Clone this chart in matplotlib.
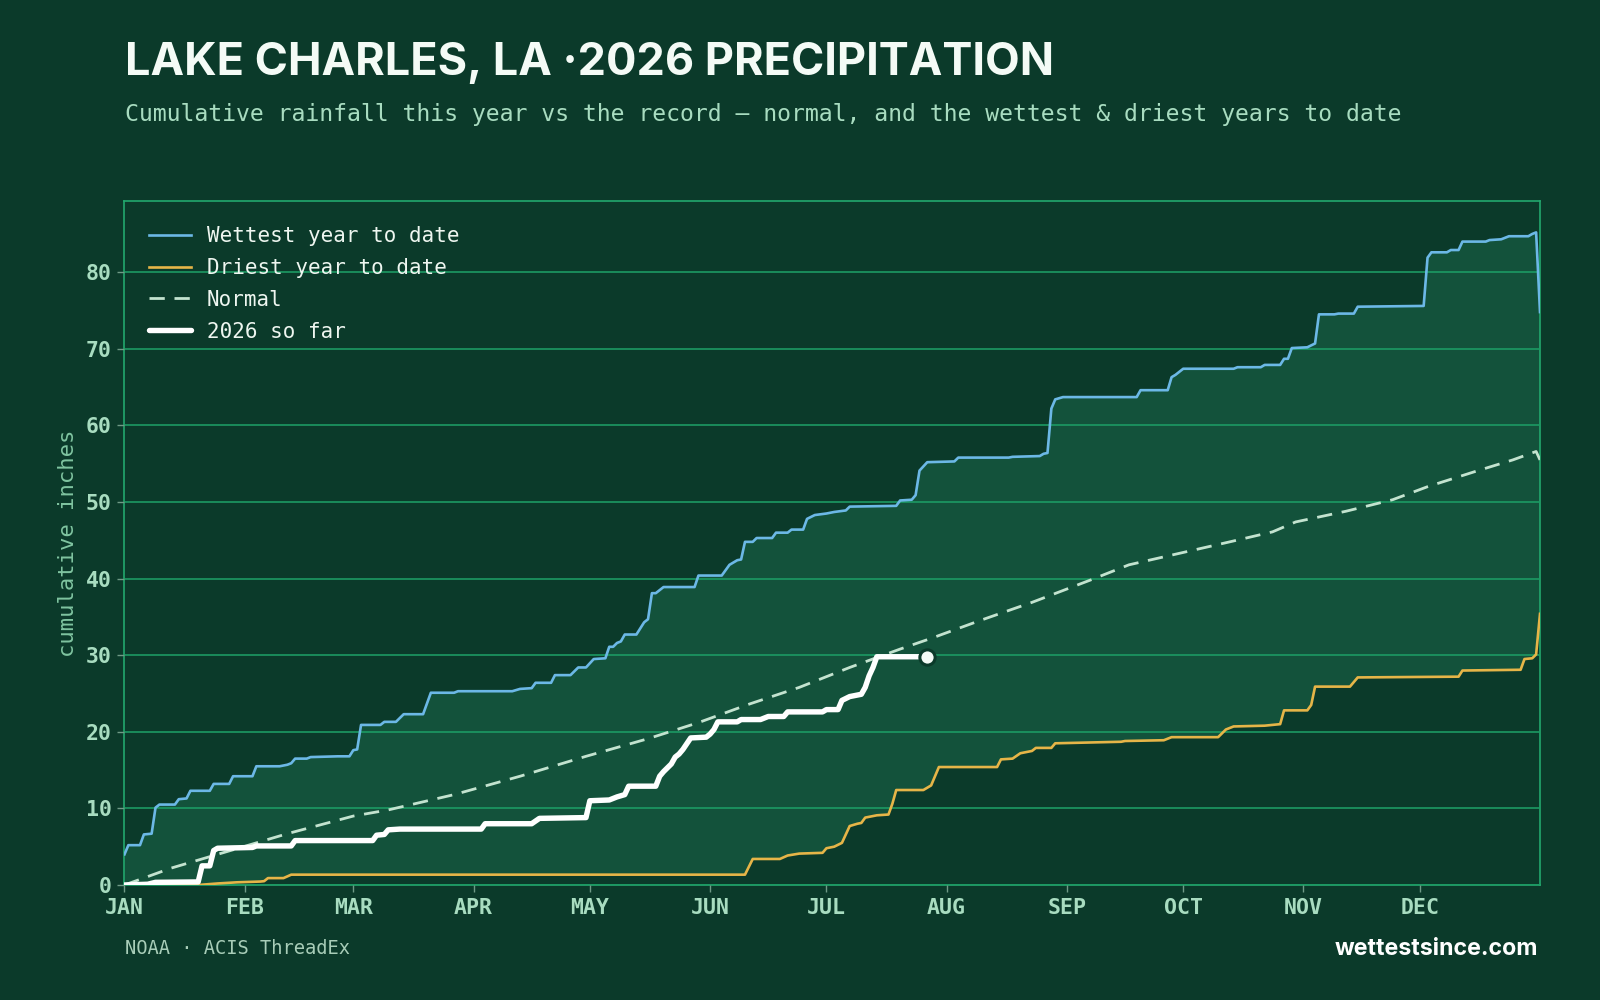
import numpy as np
import matplotlib
matplotlib.use("Agg")
import matplotlib.pyplot as plt

# data (day of year from Jan 1 = 0, cumulative inches)

wet_day = [0, 1, 4, 5, 7, 8, 9, 13, 14, 16, 17, 22, 23, 27, 28, 33, 34, 40, 42, 43, 44, 47, 48, 55, 58, 59, 60,
           61, 66, 67, 70, 72, 77, 79, 85, 86, 100, 102, 105, 106, 110, 111, 115, 117, 119, 121, 124, 125, 126,
           127, 128, 129, 132, 134, 135, 136, 137, 139, 147, 148, 154, 156, 158, 159, 160, 162, 163, 167, 168,
           171, 172, 175, 176, 178, 181, 183, 186, 187, 199, 200, 203, 204, 205, 207, 214, 215, 228, 229, 236,
           237, 238, 239, 240, 242, 261, 262, 269, 270, 271, 273, 286, 287, 293, 294, 298, 299, 300, 301, 305,
           307, 308, 312, 313, 317, 318, 335, 336, 337, 341, 342, 344, 345, 351, 352, 355, 357, 362, 363, 364, 365]
wet_val = [4.0, 5.2, 5.2, 6.6, 6.7, 10.1, 10.5, 10.5, 11.2, 11.3, 12.3, 12.3, 13.2, 13.2, 14.2, 14.2, 15.5, 15.5,
           15.7, 15.9, 16.5, 16.5, 16.7, 16.8, 16.8, 17.6, 17.7, 20.9, 20.9, 21.3, 21.3, 22.3, 22.3, 25.1, 25.1,
           25.3, 25.3, 25.6, 25.7, 26.4, 26.4, 27.4, 27.4, 28.4, 28.4, 29.5, 29.6, 31.1, 31.1, 31.6, 31.8, 32.7,
           32.7, 34.3, 34.7, 38.1, 38.1, 38.9, 38.9, 40.4, 40.4, 41.8, 42.4, 42.5, 44.8, 44.8, 45.3, 45.3, 46.0,
           46.0, 46.4, 46.4, 47.8, 48.3, 48.5, 48.7, 48.9, 49.4, 49.5, 50.2, 50.3, 50.9, 54.1, 55.2, 55.3, 55.8,
           55.8, 55.9, 56.0, 56.3, 56.4, 62.2, 63.4, 63.7, 63.7, 64.6, 64.6, 66.3, 66.6, 67.4, 67.4, 67.6, 67.6,
           67.9, 67.9, 68.7, 68.7, 70.1, 70.2, 70.7, 74.5, 74.5, 74.6, 74.6, 75.5, 75.6, 81.9, 82.6, 82.6, 82.9,
           82.9, 84.0, 84.0, 84.2, 84.3, 84.7, 84.7, 85.0, 85.2, 74.8]

dry_day = [0, 19, 24, 29, 35, 36, 37, 41, 43, 160, 162, 169, 171, 174, 180, 181, 183, 185, 187, 189, 190, 191,
           194, 197, 198, 199, 206, 208, 210, 225, 226, 229, 231, 234, 235, 239, 240, 257, 258, 268, 270, 282,
           284, 286, 294, 298, 299, 305, 306, 307, 316, 318, 344, 345, 360, 361, 363, 364, 365]
dry_val = [0.0, 0.0, 0.2, 0.35, 0.45, 0.5, 0.9, 0.9, 1.35, 1.35, 3.4, 3.4, 3.85, 4.1, 4.2, 4.8, 5.0, 5.5, 7.7,
           8.0, 8.1, 8.8, 9.1, 9.2, 10.6, 12.4, 12.4, 13.0, 15.4, 15.4, 16.4, 16.5, 17.2, 17.5, 17.9, 17.9, 18.5,
           18.7, 18.8, 18.9, 19.3, 19.3, 20.3, 20.7, 20.8, 21.0, 22.8, 22.8, 23.5, 25.9, 25.9, 27.1, 27.2, 28.0,
           28.1, 29.5, 29.6, 30.1, 35.4]

norm_day = [0, 12, 24, 42, 59, 68, 85, 102, 119, 135, 148, 161, 174, 187, 200, 208, 221, 234, 249, 259, 272,
            285, 296, 302, 315, 327, 336, 349, 358, 364, 365]
norm_val = [0.0, 2.2, 4.0, 6.7, 9.0, 9.8, 11.8, 14.2, 16.8, 19.1, 21.2, 23.6, 25.8, 28.4, 30.8, 32.2, 34.6,
            36.9, 39.8, 41.8, 43.3, 44.8, 46.1, 47.4, 48.8, 50.3, 52.0, 54.1, 55.5, 56.6, 55.5]

cur_day = [0, 6, 8, 19, 20, 22, 23, 24, 33, 34, 43, 44, 64, 65, 67, 68, 71, 92, 93, 105, 107, 119, 120, 125,
           127, 129, 130, 137, 138, 139, 140, 141, 142, 143, 144, 146, 150, 151, 152, 153, 158, 159, 164, 166,
           170, 171, 180, 181, 184, 185, 187, 190, 191, 192, 193, 194, 207]
cur_val = [0.0, 0.1, 0.35, 0.4, 2.5, 2.5, 4.5, 4.8, 4.9, 5.1, 5.1, 5.8, 5.8, 6.5, 6.6, 7.2, 7.3, 7.3, 8.0, 8.0,
           8.7, 8.8, 11.0, 11.1, 11.5, 11.8, 12.9, 12.9, 14.2, 14.8, 15.3, 15.8, 16.7, 17.1, 17.7, 19.2, 19.3,
           19.7, 20.3, 21.3, 21.3, 21.6, 21.6, 22.0, 22.0, 22.6, 22.6, 22.9, 22.9, 24.1, 24.6, 24.9, 25.8, 27.3,
           28.4, 29.8, 29.8]

month_start = [0, 31, 59, 90, 120, 151, 181, 212, 243, 273, 304, 334]
month_lbl = ["JAN", "FEB", "MAR", "APR", "MAY", "JUN", "JUL", "AUG", "SEP", "OCT", "NOV", "DEC"]

# colours
BG = "#0b3a2a"
BAND = "#13523b"
GRID = "#1c9a63"
TICK = "#a8dcc0"
MONO = "DejaVu Sans Mono"
SANS = "Inter"

fig = plt.figure(figsize=(16, 10), dpi=100, facecolor=BG)
ax = fig.add_axes([0.0778, 0.115, 0.8847, 0.684])
ax.set_facecolor(BG)

# band between driest and wettest
ax.fill(wet_day + dry_day[::-1], wet_val + dry_val[::-1], color=BAND, lw=0, zorder=1)

ax.plot(wet_day, wet_val, color="#6cb8e6", lw=1.9, zorder=3, label="Wettest year to date")
ax.plot(dry_day, dry_val, color="#e6b548", lw=1.9, zorder=3, label="Driest year to date")
ax.plot(norm_day, norm_val, color="#c3e3cf", lw=2.0, ls=(0, (5.5, 3.5)), zorder=3, label="Normal")
ax.plot(cur_day, cur_val, color="#ffffff", lw=3.9, zorder=4, solid_capstyle="round", label="2026 so far")
ax.plot(cur_day[-1], cur_val[-1], "o", ms=11, mfc="#f4fbf6", mec=BG, mew=2.2, zorder=5)

ax.set_xlim(0, 365)
ax.set_ylim(0, 89.3)
ax.set_yticks(range(0, 81, 10))
ax.set_xticks(month_start)
ax.set_xticklabels(month_lbl)
ax.grid(axis="y", color=GRID, lw=1.2, zorder=2)
ax.set_axisbelow(False)
for s in ax.spines.values():
    s.set_color("#22a86e")
    s.set_linewidth(1.2)
ax.tick_params(colors="#6f9a86", length=5, width=1, labelcolor=TICK, pad=4)
for t in ax.get_xticklabels() + ax.get_yticklabels():
    t.set_fontfamily(MONO)
    t.set_fontweight("bold")
    t.set_fontsize(15.5)
ax.set_ylabel("cumulative inches", family=MONO, fontsize=16, color="#7fc4a0", labelpad=6)

leg = ax.legend(loc="upper left", frameon=False, prop={"family": MONO, "size": 15},
                handlelength=2.0, handletextpad=0.75, borderaxespad=0.8, labelspacing=0.57,
                bbox_to_anchor=(0.0, 1.0))
for t in leg.get_texts():
    t.set_color("#eef6f0")

fig.text(0.078, 0.9255, "LAKE CHARLES, LA \u00b72026 PRECIPITATION", family=SANS, weight="bold",
         fontsize=32.4, color="#f4fbf6")
fig.text(0.078, 0.879, "Cumulative rainfall this year vs the record \u2014 normal, and the wettest & driest years to date",
         family=MONO, fontsize=16.65, color="#a8dcc0")
fig.text(0.078, 0.052, "NOAA \u00b7 ACIS ThreadEx", family=MONO, fontsize=13.5, color="#a8cdb8", va="center")
fig.text(0.9615, 0.051, "wettestsince.com", family=SANS, weight="bold", fontsize=16.7, color="#ffffff",
         ha="right", va="center")

fig.savefig("out.png", dpi=100, facecolor=BG)
